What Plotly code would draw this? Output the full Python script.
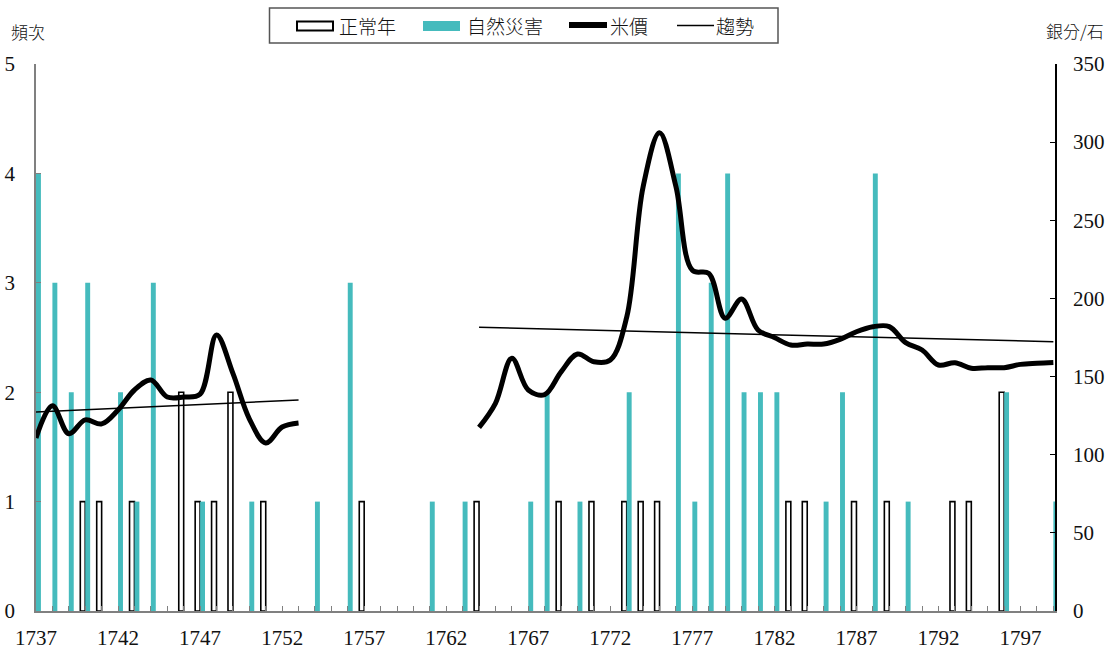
import plotly.graph_objects as go

# ---------------- data ----------------
years = list(range(1737, 1800))

normal_years = [1740, 1741, 1743, 1746, 1747, 1748, 1749, 1751, 1757, 1764, 1769, 1771,
                1773, 1774, 1775, 1783, 1784, 1787, 1789, 1793, 1794, 1796]
normal_counts = [1, 1, 1, 2, 1, 1, 2, 1, 1, 1, 1, 1,
                 1, 1, 1, 1, 1, 1, 1, 1, 1, 2]

disaster_years = [1737, 1738, 1739, 1740, 1742, 1743, 1744, 1747, 1750, 1754, 1756, 1761,
                  1763, 1767, 1768, 1770, 1773, 1776, 1777, 1778, 1779, 1780, 1781, 1782,
                  1785, 1786, 1788, 1790, 1796, 1799]
disaster_counts = [4, 3, 2, 3, 2, 1, 3, 1, 1, 1, 3, 1,
                   1, 1, 2, 1, 2, 4, 1, 3, 4, 2, 2, 2,
                   1, 2, 4, 1, 2, 1]

price_years_1 = list(range(1737, 1754))
price_1 = [110.7, 131.3, 113.4, 122.3, 119.7, 128.6, 141.4, 147.8, 136.9, 136.9,
           138.8, 176.6, 152.0, 123.0, 107.5, 117.7, 120.3]

price_years_2 = list(range(1764, 1800))
price_2 = [117.5, 132.9, 161.7, 141.4, 138.5, 153.0, 164.4, 159.5, 160.6, 188.0,
           271.5, 306.0, 271.5, 218.0, 216.0, 187.3, 199.6, 179.8, 175.0, 170.2,
           170.8, 170.8, 173.8, 178.7, 181.9, 182.0, 171.7, 167.0, 157.4, 158.9,
           155.3, 155.7, 155.7, 157.8, 158.5, 159.0]

trend_years_1 = [1737, 1753]
trend_1 = [127.3, 135.0]
trend_years_2 = [1764, 1799]
trend_2 = [181.5, 172.3]

x_tick_vals = list(range(1737, 1798, 5))
x_tick_text = [str(v) for v in x_tick_vals]

legend_labels = ["正常年", "自然災害", "米價", "趨勢"]
left_title = "頻次"
right_title = "銀分/石"

# ---------------- style ----------------
TEAL = "#45BBBD"
FONT = "Liberation Serif, 'Noto Sans CJK TC', serif"
CJK = "'Noto Sans CJK TC', 'Noto Sans CJK SC', sans-serif"

W, H = 1116, 651
L, R, T, B = 36, 61, 63.5, 39.5
PW, PH = W - L - R, H - T - B


def px(xp):
    return (xp - L) / PW


def py(yp):
    return (H - B - yp) / PH


fig = go.Figure()

fig.add_trace(go.Bar(x=normal_years, y=normal_counts, name=legend_labels[0],
                     marker=dict(color="white", line=dict(color="black", width=1.6)),
                     showlegend=False))
fig.add_trace(go.Bar(x=disaster_years, y=disaster_counts, name=legend_labels[1],
                     marker=dict(color=TEAL, line=dict(width=0)),
                     showlegend=False))

price_x = price_years_1 + [None] + price_years_2
price_y = price_1 + [None] + price_2
fig.add_trace(go.Scatter(x=price_x, y=price_y, yaxis="y2", mode="lines",
                         name=legend_labels[2], connectgaps=False,
                         line=dict(color="black", width=5, shape="spline", smoothing=1.0),
                         showlegend=False))

fig.add_trace(go.Scatter(x=trend_years_1 + [None] + trend_years_2,
                         y=trend_1 + [None] + trend_2, yaxis="y2", mode="lines",
                         name=legend_labels[3], connectgaps=False,
                         line=dict(color="black", width=1.5),
                         showlegend=False))

# ---------------- manual legend ----------------
shapes = [
    dict(type="rect", xref="paper", yref="paper", x0=px(269.5), x1=px(778), y0=py(7.5), y1=py(42.5),
         line=dict(color="#555555", width=1.5), fillcolor="white", layer="above"),
    dict(type="rect", xref="paper", yref="paper", x0=px(297), x1=px(333), y0=py(21), y1=py(30),
         line=dict(color="black", width=2), fillcolor="white", layer="above"),
    dict(type="rect", xref="paper", yref="paper", x0=px(423), x1=px(460), y0=py(20.5), y1=py(30.5),
         line=dict(width=0), fillcolor=TEAL, layer="above"),
    dict(type="line", xref="paper", yref="paper", x0=px(569), x1=px(607), y0=py(24.5), y1=py(24.5),
         line=dict(color="black", width=6), layer="above"),
    dict(type="line", xref="paper", yref="paper", x0=px(677), x1=px(714), y0=py(25), y1=py(25),
         line=dict(color="black", width=1.5), layer="above"),
]

annotations = []
for text, xl in zip(legend_labels, [337, 465, 608, 714]):
    annotations.append(dict(text=text, xref="paper", yref="paper", x=px(xl), y=py(25),
                            xanchor="left", yanchor="middle", showarrow=False,
                            font=dict(family=CJK, size=19, color="#111111", weight=300)))
annotations.append(dict(text=left_title, xref="paper", yref="paper", x=px(28), y=py(30.5),
                        xanchor="center", yanchor="middle", showarrow=False,
                        font=dict(family=CJK, size=17, color="#111111", weight=300)))
annotations.append(dict(text=right_title, xref="paper", yref="paper", x=px(1106), y=py(30),
                        xanchor="right", yanchor="middle", showarrow=False,
                        font=dict(family=CJK, size=17, color="#111111", weight=300)))

fig.update_layout(
    width=W, height=H,
    margin=dict(l=L, r=R, t=T, b=B, pad=0, autoexpand=False),
    paper_bgcolor="white", plot_bgcolor="white",
    barmode="group", bargap=0.4, bargroupgap=0.0,
    font=dict(family=FONT, size=20, color="#111111"),
    shapes=shapes, annotations=annotations,
    xaxis=dict(range=[1737, 1799.1], tickmode="array", tickvals=x_tick_vals, ticktext=x_tick_text,
               ticks="inside", ticklen=5, tickcolor="#808080", tickwidth=1,
               minor=dict(dtick=1, tick0=1737, ticks="inside", ticklen=5, tickcolor="#808080", tickwidth=1),
               showline=True, linecolor="#808080", linewidth=1.5, automargin=False,
               showgrid=False, zeroline=False, ticklabelstandoff=7,
               tickfont=dict(family=FONT, size=21, color="#111111")),
    yaxis=dict(range=[0, 5], dtick=1, ticks="inside", ticklen=5, tickcolor="#808080",
               showline=True, linecolor="#808080", linewidth=1.5, automargin=False,
               showgrid=False, zeroline=False, ticklabelstandoff=15,
               tickfont=dict(family=FONT, size=21, color="#111111")),
    yaxis2=dict(range=[0, 350], dtick=50, overlaying="y", side="right", anchor="x",
                ticks="inside", ticklen=5, tickcolor="black", automargin=False,
                showline=True, linecolor="black", linewidth=1.5,
                showgrid=False, zeroline=False, ticklabelstandoff=12,
                tickfont=dict(family=FONT, size=21, color="#111111")),
)

fig.write_html("out.html", config={"displayModeBar": False},
               post_script="document.body.style.margin='0';document.body.style.overflow='hidden';")
